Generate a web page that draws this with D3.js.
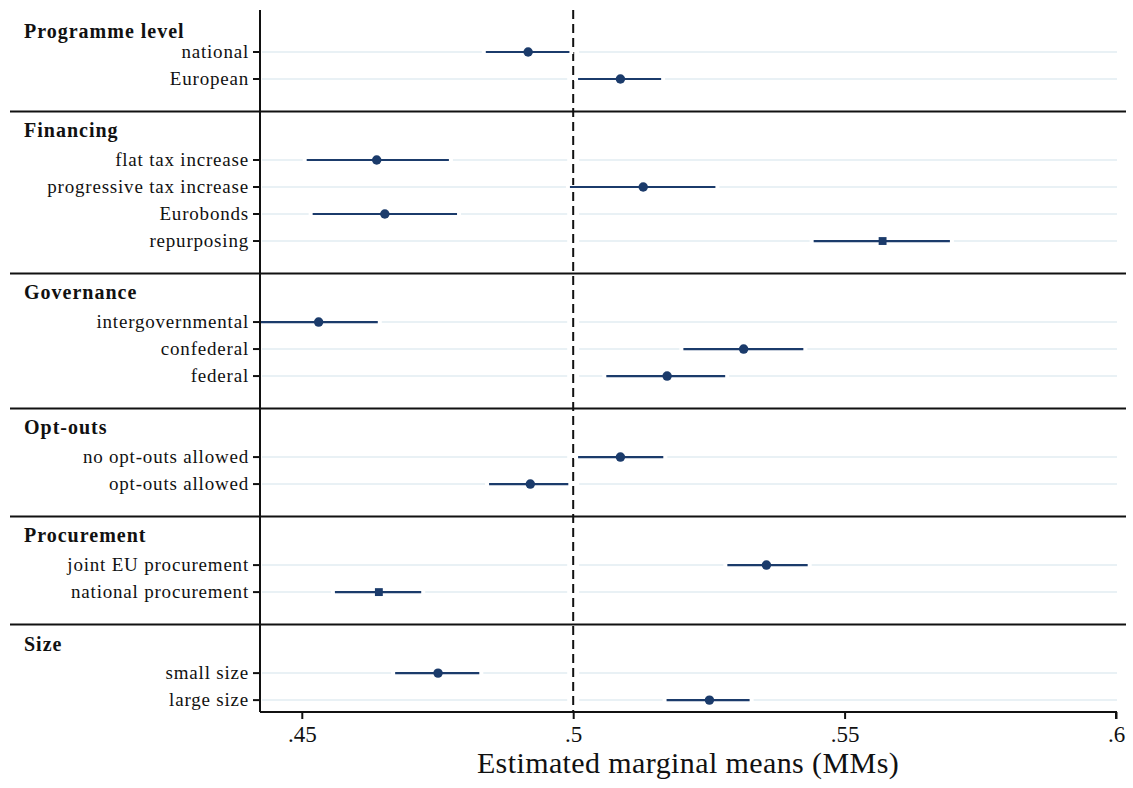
<!DOCTYPE html>
<html lang="en">
<head>
<meta charset="utf-8">
<title>Estimated marginal means</title>
<script src="https://d3js.org/d3.v7.min.js"></script>
<style>
body { margin: 0; background: #fff; font-family: "Liberation Serif", "DejaVu Serif", serif; }
.lvl { font-size: 19px; letter-spacing: 0.8px; fill: #111; }
.grp { font-size: 20px; letter-spacing: 1px; font-weight: bold; fill: #111; }
.tick-lbl { font-size: 23px; fill: #111; }
</style>
</head>
<body>
<div id="chart"></div>
<script>
// attribute groups and their levels
const groups = ["Programme level", "Financing", "Governance", "Opt-outs", "Procurement", "Size"];
const levels = [
  ["national", "European"],
  ["flat tax increase", "progressive tax increase", "Eurobonds", "repurposing"],
  ["intergovernmental", "confederal", "federal"],
  ["no opt-outs allowed", "opt-outs allowed"],
  ["joint EU procurement", "national procurement"],
  ["small size", "large size"]
];
// marginal means and 95% CI
const estimates = [
  [0.4917, 0.5087],
  [0.4638, 0.5129, 0.4653, 0.5570],
  [0.4531, 0.5314, 0.5173],
  [0.5087, 0.4921],
  [0.5356, 0.4642],
  [0.4751, 0.5251]
];
const lower = [
  [0.4839, 0.5009],
  [0.4509, 0.4994, 0.4520, 0.5443],
  [0.4423, 0.5203, 0.5061],
  [0.5009, 0.4845],
  [0.5284, 0.4561],
  [0.4672, 0.5172]
];
const upper = [
  [0.4993, 0.5162],
  [0.4771, 0.5262, 0.4786, 0.5694],
  [0.4640, 0.5424, 0.5280],
  [0.5166, 0.4991],
  [0.5432, 0.4720],
  [0.4827, 0.5325]
];
const xTicks = [0.45, 0.5, 0.55, 0.6];
const refValue = 0.5;
const squareLevels = ["repurposing", "national procurement"];

const width = 1133, height = 788;
const m = { left: 260, right: 1116, top: 10, bottom: 712 };
const navy = "#1b3b6b";

const svg = d3.select("#chart").append("svg")
  .attr("width", width)
  .attr("height", height);

// rows: each group's levels sit on consecutive slots, two empty slots between groups
const rows = [];
const groupInfo = [];
let slot = 0;
groups.forEach(function (g, gi) {
  groupInfo.push({ name: g, first: slot });
  levels[gi].forEach(function (lv, li) {
    rows.push({ label: lv, est: estimates[gi][li], lo: lower[gi][li], hi: upper[gi][li], slot: slot });
    slot += 1;
  });
  slot += 2;
});

const x = d3.scaleLinear().domain([0.4423, 0.6]).range([m.left, m.right]);
const y = d3.scaleLinear().domain([-1.555, 24.44]).range([m.top, m.bottom]);

// light gridlines
svg.append("g").selectAll("line").data(rows).enter().append("line")
  .attr("x1", m.left + 2).attr("x2", m.right + 1)
  .attr("y1", d => y(d.slot)).attr("y2", d => y(d.slot))
  .attr("stroke", "#e2edf2").attr("stroke-width", 1.5);

// white gap around reference line
svg.append("rect")
  .attr("x", x(refValue) - 6).attr("y", m.top)
  .attr("width", 12).attr("height", m.bottom - m.top - 1)
  .attr("fill", "#fff");

// group separators and headers
groupInfo.forEach(function (g, i) {
  let sepY = y(g.first - 1.8);
  if (i > 0) {
    svg.append("line")
      .attr("x1", 10).attr("x2", 1126)
      .attr("y1", sepY).attr("y2", sepY)
      .attr("stroke", "#111").attr("stroke-width", 2);
  } else {
    sepY = m.top + 2;
  }
  svg.append("text")
    .attr("class", "grp")
    .attr("x", 24)
    .attr("y", sepY + 19)
    .attr("dy", "0.35em")
    .text(g.name);
});

// dashed reference line
svg.append("line")
  .attr("x1", x(refValue)).attr("x2", x(refValue))
  .attr("y1", m.top).attr("y2", m.bottom)
  .attr("stroke", "#111").attr("stroke-width", 2)
  .attr("stroke-dasharray", "9,5");

// confidence intervals with a white halo
const ci = svg.append("g");
ci.selectAll("line.halo").data(rows).enter().append("line")
  .attr("class", "halo")
  .attr("x1", d => Math.max(m.left + 1, x(d.lo) - 4)).attr("x2", d => x(d.hi) + 4)
  .attr("y1", d => y(d.slot)).attr("y2", d => y(d.slot))
  .attr("stroke", "#fff").attr("stroke-width", 4);
ci.selectAll("line.bar").data(rows).enter().append("line")
  .attr("class", "bar")
  .attr("x1", d => Math.max(m.left, x(d.lo))).attr("x2", d => x(d.hi))
  .attr("y1", d => y(d.slot)).attr("y2", d => y(d.slot))
  .attr("stroke", navy).attr("stroke-width", 2.2);

// point estimates
svg.append("g").selectAll("path").data(rows).enter().append("path")
  .attr("d", d => d3.symbol()
    .type(squareLevels.includes(d.label) ? d3.symbolSquare : d3.symbolCircle)
    .size(squareLevels.includes(d.label) ? 62 : 70)())
  .attr("transform", d => "translate(" + x(d.est) + "," + y(d.slot) + ")")
  .attr("fill", navy);

// y axis
const yAxis = svg.append("g");
yAxis.append("line")
  .attr("x1", m.left).attr("x2", m.left).attr("y1", m.top).attr("y2", m.bottom)
  .attr("stroke", "#111").attr("stroke-width", 2);
yAxis.selectAll("line.tk").data(rows).enter().append("line")
  .attr("class", "tk")
  .attr("x1", m.left - 7).attr("x2", m.left)
  .attr("y1", d => y(d.slot)).attr("y2", d => y(d.slot))
  .attr("stroke", "#111").attr("stroke-width", 2);
yAxis.selectAll("text").data(rows).enter().append("text")
  .attr("class", "lvl")
  .attr("x", m.left - 11)
  .attr("y", d => y(d.slot))
  .attr("dy", "0.32em")
  .attr("text-anchor", "end")
  .text(d => d.label);

// x axis
const xAxis = svg.append("g").attr("transform", "translate(0," + m.bottom + ")")
  .call(d3.axisBottom(x).tickValues(xTicks).tickSize(7)
    .tickFormat(d => d3.format(".2~f")(d).replace(/^0/, "")));
xAxis.select(".domain").attr("stroke", "#111").attr("stroke-width", 2)
  .attr("d", "M" + m.left + ",0H" + m.right + "V7");
xAxis.selectAll(".tick line").attr("stroke", "#111").attr("stroke-width", 2);
xAxis.selectAll(".tick text")
  .attr("class", "tick-lbl")
  .attr("y", 14).attr("dy", "0.71em");
xAxis.attr("font-family", null).attr("font-size", null);

svg.append("text")
  .attr("x", (m.left + m.right) / 2)
  .attr("y", 773)
  .attr("text-anchor", "middle")
  .attr("font-size", 30)
  .attr("letter-spacing", "0.4px")
  .attr("fill", "#111")
  .text("Estimated marginal means (MMs)");
</script>
</body>
</html>
